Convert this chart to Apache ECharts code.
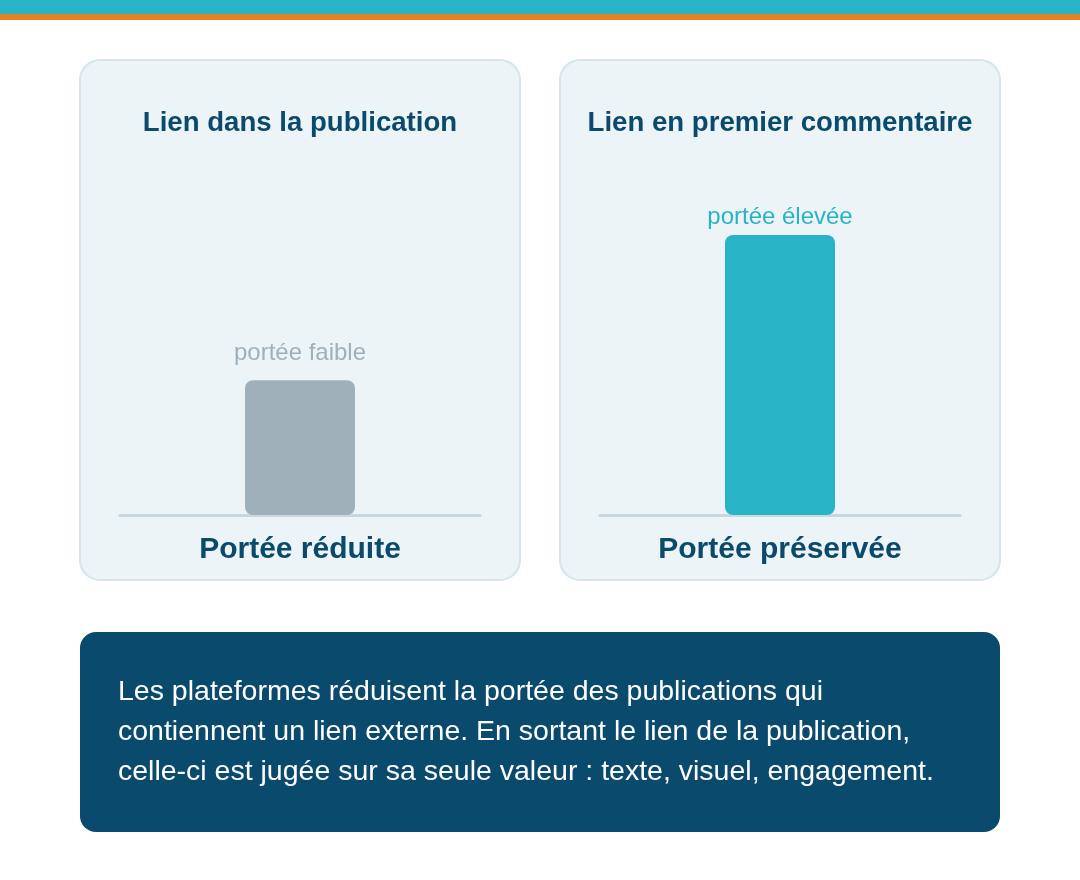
<!DOCTYPE html>
<html>
<head>
<meta charset="utf-8">
<script src="https://cdn.jsdelivr.net/npm/echarts@6/dist/echarts.min.js"></script>
<style>
  html, body { margin: 0; padding: 0; background: #ffffff; }
  #chart { width: 1080px; height: 880px; }
</style>
</head>
<body>
<div id="chart"></div>
<script>
// data
var panelTitles = ['Lien dans la publication', 'Lien en premier commentaire'];
var categories = ['Portée réduite', 'Portée préservée'];
var reachValues = [38.5, 80];
var barLabels = ['portée faible', 'portée élevée'];
var barColors = ['#a0b0ba', '#29b3c6'];
var noteLines = [
    'Les plateformes réduisent la portée des publications qui',
    'contiennent un lien externe. En sortant le lien de la publication,',
    'celle-ci est jugée sur sa seule valeur : texte, visuel, engagement.'
];

var FONT = '"Liberation Sans", Arial, sans-serif';
var labelGap = [15, 6];

var chart = echarts.init(document.getElementById('chart'));

var grids = [], xAxes = [], yAxes = [], series = [], titles = [];
for (var i = 0; i < 2; i++) {
    grids.push({ left: 120 + i * 480, width: 360, top: 165, height: 350 });
    xAxes.push({
        type: 'category',
        gridIndex: i,
        data: [categories[i]],
        axisLine: { show: true, lineStyle: { color: '#c8d7e1', width: 3 } },
        axisTick: { show: false },
        axisLabel: {
            margin: 20,
            color: '#0b4a6b',
            fontSize: 30,
            fontWeight: 'bold',
            fontFamily: FONT
        }
    });
    yAxes.push({
        type: 'value',
        gridIndex: i,
        min: 0,
        max: 100,
        show: false,
        splitLine: { show: false }
    });
    series.push({
        type: 'bar',
        xAxisIndex: i,
        yAxisIndex: i,
        barWidth: 110,
        data: [reachValues[i]],
        itemStyle: { color: barColors[i], borderRadius: 8 },
        label: {
            show: true,
            position: 'top',
            distance: labelGap[i],
            formatter: barLabels[i],
            color: barColors[i],
            fontSize: 24,
            fontFamily: FONT
        },
        silent: true
    });
    titles.push({
        text: panelTitles[i],
        left: 300 + i * 480,
        top: 109,
        padding: 0,
        textAlign: 'center',
        textStyle: {
            color: '#0b4a6b',
            fontSize: 27.6,
            fontWeight: 'bold',
            fontFamily: FONT
        }
    });
}

var graphics = [
    { type: 'rect', shape: { x: 0, y: 0, width: 1080, height: 14 }, style: { fill: '#29b3c6' } },
    { type: 'rect', shape: { x: 0, y: 14, width: 1080, height: 6 }, style: { fill: '#e67e22' } },
    { type: 'rect', shape: { x: 80, y: 60, width: 440, height: 520, r: 20 },
      style: { fill: '#ecf4f8', stroke: '#d6e4ec', lineWidth: 2 }, z: -10 },
    { type: 'rect', shape: { x: 560, y: 60, width: 440, height: 520, r: 20 },
      style: { fill: '#ecf4f8', stroke: '#d6e4ec', lineWidth: 2 }, z: -10 },
    { type: 'rect', shape: { x: 80, y: 632, width: 920, height: 200, r: 16 },
      style: { fill: '#0a4a6c' }, z: -10 }
];
noteLines.forEach(function (line, k) {
    graphics.push({
        type: 'text',
        left: 118,
        top: 678 + k * 40,
        style: { text: line, fill: '#ffffff', fontSize: 28.5, fontFamily: FONT }
    });
});

option = {
    backgroundColor: '#ffffff',
    animation: false,
    title: titles,
    grid: grids,
    xAxis: xAxes,
    yAxis: yAxes,
    series: series,
    graphic: graphics
};

chart.setOption(option);
</script>
</body>
</html>
